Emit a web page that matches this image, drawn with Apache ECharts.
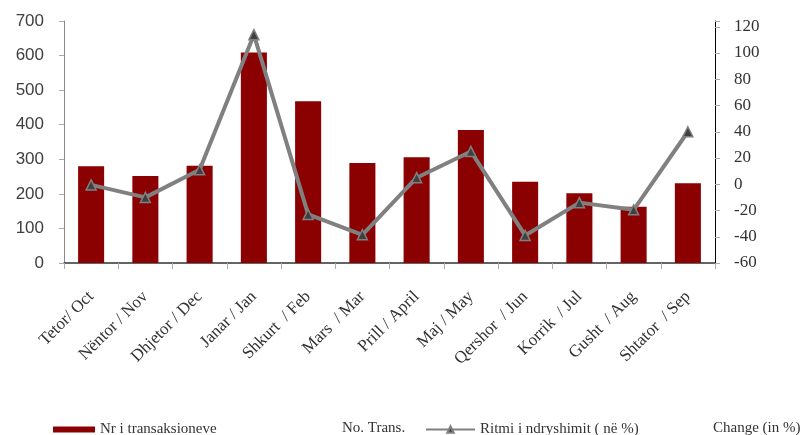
<!DOCTYPE html>
<html>
<head>
<meta charset="utf-8">
<script src="https://cdn.jsdelivr.net/npm/echarts@6/dist/echarts.min.js"></script>
<style>
html,body{margin:0;padding:0;background:#fff;}
#chart{width:806px;height:435px;}
</style>
</head>
<body>
<div id="chart"></div>
<script>
const categories = ['Tetor/ Oct', 'Nëntor / Nov', 'Dhjetor / Dec', 'Janar / Jan', 'Shkurt  / Feb', 'Mars  / Mar', 'Prill / April', 'Maj / May', 'Qershor  / Jun', 'Korrik  / Jul', 'Gusht  / Aug', 'Shtator  / Sep'];
const transactions = [280, 252, 281, 609, 468, 289, 306, 385, 235, 202, 163, 231];
const changePct = [-0.5, -10, 11, 114, -23, -38.5, 5, 25, -39, -14, -19.5, 40];
const leftTicks = { min: 0, max: 700, interval: 100 };
const rightTicks = { min: -60, max: 124.4, interval: 20 };
const barName = 'Nr i transaksioneve';
const lineName = 'Ritmi i ndryshimit ( në %)';

const serif = '"Liberation Serif", "Times New Roman", serif';
const sans = '"Liberation Sans", Arial, sans-serif';

const chart = echarts.init(document.getElementById('chart'), null, { renderer: 'canvas' });
chart.setOption({
  animation: false,
  backgroundColor: '#ffffff',
  grid: { left: 64, right: 91, top: 21, bottom: 172, containLabel: false },
  legend: [
    {
      data: [{ name: barName, icon: 'rect' }], left: 53, top: 422, itemWidth: 42, itemHeight: 6, itemGap: 6, padding: 0,
      textStyle: { fontFamily: serif, fontSize: 15, color: '#333' }
    },
    {
      data: [lineName], left: 425, top: 422, itemWidth: 49, itemHeight: 8, itemGap: 4, padding: 0,
      lineStyle: { width: 2 },
      textStyle: { fontFamily: serif, fontSize: 15, color: '#333' }
    }
  ],
  graphic: [
    { type: 'text', left: 342, top: 421, style: { text: 'No. Trans.', font: '15px ' + serif, fill: '#333' } },
    { type: 'text', left: 713, top: 421, style: { text: 'Change (in %)', font: '15px ' + serif, fill: '#333' } }
  ],
  xAxis: {
    type: 'category',
    data: categories,
    boundaryGap: true,
    axisLine: { show: true, lineStyle: { color: '#333', width: 1.5 } },
    axisTick: { show: true, alignWithLabel: false, length: 6, lineStyle: { color: '#aaa' } },
    axisLabel: { rotate: 45, margin: 31, interval: 0, fontFamily: serif, fontSize: 17, color: '#333' },
    splitLine: { show: false }
  },
  yAxis: [
    {
      type: 'value', position: 'left', min: leftTicks.min, max: leftTicks.max, interval: leftTicks.interval,
      axisLine: { show: true, lineStyle: { color: '#888' } },
      axisTick: { show: true, length: 5, lineStyle: { color: '#aaa' } },
      axisLabel: { margin: 20, fontFamily: sans, fontSize: 17, color: '#404040' },
      splitLine: { show: false }
    },
    {
      type: 'value', position: 'right', min: rightTicks.min, max: rightTicks.max, interval: rightTicks.interval,
      axisLine: { show: true, lineStyle: { color: '#000' } },
      axisTick: { show: true, length: 5, lineStyle: { color: '#aaa' } },
      axisLabel: {
        margin: 19, fontFamily: serif, fontSize: 17, color: '#333',
        formatter: v => (Math.abs(v % 20) < 1e-6 ? String(Math.round(v)) : '')
      },
      splitLine: { show: false }
    }
  ],
  series: [
    {
      name: barName, type: 'bar', yAxisIndex: 0, data: transactions, barWidth: '48%',
      itemStyle: { color: '#8B0000' }, z: 2
    },
    {
      name: lineName, type: 'line', yAxisIndex: 1, data: changePct,
      symbol: 'triangle', symbolSize: 10,
      lineStyle: { color: '#808080', width: 4 },
      itemStyle: { color: '#404040', borderColor: '#808080', borderWidth: 1.5 },
      z: 3
    }
  ]
});
</script>
</body>
</html>
